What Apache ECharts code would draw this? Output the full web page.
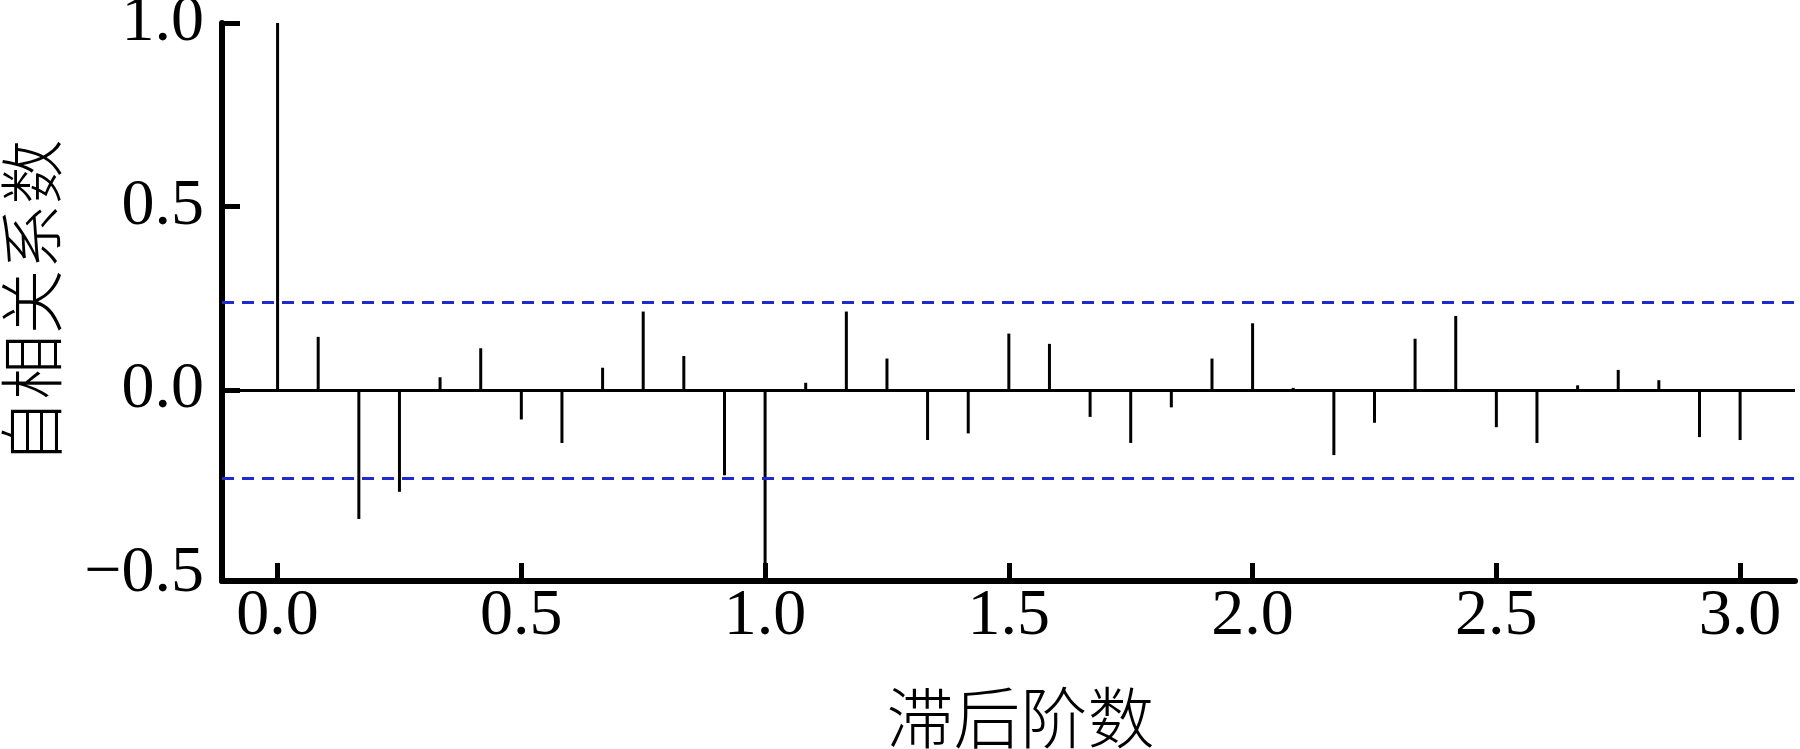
<!DOCTYPE html>
<html>
<head>
<meta charset="utf-8">
<script src="https://cdn.jsdelivr.net/npm/echarts@6/dist/echarts.min.js"></script>
<style>
html,body{margin:0;padding:0;background:#fff;}
#c{width:1800px;height:749px;}
</style>
</head>
<body>
<div id="c"></div>
<script>
// Lag (years) of each autocorrelation bar
const lags = [0, 0.0833, 0.1667, 0.25, 0.3333, 0.4167, 0.5, 0.5833, 0.6667, 0.75, 0.8333, 0.9167,
              1.0, 1.0833, 1.1667, 1.25, 1.3333, 1.4167, 1.5, 1.5833, 1.6667, 1.75, 1.8333, 1.9167,
              2.0, 2.0833, 2.1667, 2.25, 2.3333, 2.4167, 2.5, 2.5833, 2.6667, 2.75, 2.8333, 2.9167, 3.0];
// Autocorrelation coefficients
const acf = [1.0, 0.145, -0.351, -0.277, 0.035, 0.114, -0.080, -0.144, 0.061, 0.214, 0.093, -0.232,
             -0.52, 0.020, 0.214, 0.086, -0.136, -0.118, 0.154, 0.126, -0.073, -0.144, -0.047, 0.086,
             0.182, 0.006, -0.177, -0.089, 0.140, 0.202, -0.101, -0.144, 0.013, 0.055, 0.027, -0.128, -0.136];
// Confidence bounds (blue dashed)
const confBounds = [0.242, -0.242];
// Tick labels
const xTicks = [0, 0.5, 1.0, 1.5, 2.0, 2.5, 3.0];
const yTicks = [-0.5, 0, 0.5, 1.0];
const yTickMarks = [0, 0.5, 1.0];

const serif = '"Liberation Serif", "Times New Roman", serif';
const cjk = '"Noto Sans CJK SC", sans-serif';
const fmt = v => (v < 0 ? '\u2212' : '') + Math.abs(v).toFixed(1);

const chart = echarts.init(document.getElementById('c'), null, {renderer: 'canvas'});
chart.setOption({
  backgroundColor: '#fff',
  animation: false,
  grid: {left: 222, right: 5, top: 23, bottom: 168, containLabel: false, outerBoundsMode: 'none'},
  xAxis: {
    type: 'value',
    min: -0.114,
    max: 3.1126,
    name: '滞后阶数',
    nameLocation: 'middle',
    nameGap: 103,
    nameTextStyle: {fontFamily: cjk, fontSize: 67, color: '#000', fontWeight: 300, padding: [0, 0, 0, 24]},
    axisLine: {show: true, onZero: false, lineStyle: {color: '#000', width: 6}},
    axisTick: {show: true, inside: true, length: 18, customValues: xTicks, lineStyle: {color: '#000', width: 5}},
    axisLabel: {show: true, customValues: xTicks, formatter: fmt, margin: 3,
                fontFamily: serif, fontSize: 66, color: '#000'},
    splitLine: {show: false}
  },
  yAxis: {
    type: 'value',
    min: -0.52,
    max: 1.0,
    name: '自相关系数',
    nameLocation: 'middle',
    nameGap: 158,
    nameTextStyle: {fontFamily: cjk, fontSize: 65, color: '#000', fontWeight: 300},
    axisLine: {show: true, onZero: false, lineStyle: {color: '#000', width: 6}},
    axisTick: {show: true, inside: true, length: 18, customValues: yTickMarks, lineStyle: {color: '#000', width: 5}},
    axisLabel: {show: true, customValues: yTicks, formatter: fmt, margin: 18,
                fontFamily: serif, fontSize: 66, color: '#000'},
    splitLine: {show: false}
  },
  series: [{
    type: 'bar',
    data: lags.map((x, i) => [x, acf[i]]),
    barWidth: 3,
    clip: true,
    itemStyle: {color: '#000'},
    silent: true,
    markLine: {
      silent: true,
      symbol: 'none',
      label: {show: false},
      data: [
        {yAxis: 0, lineStyle: {type: 'solid', color: '#000', width: 3}},
        {yAxis: confBounds[0], lineStyle: {type: [12, 8], color: '#1f2ad2', width: 3}},
        {yAxis: confBounds[1], lineStyle: {type: [12, 8], color: '#1f2ad2', width: 3}}
      ]
    }
  }]
});
</script>
</body>
</html>
